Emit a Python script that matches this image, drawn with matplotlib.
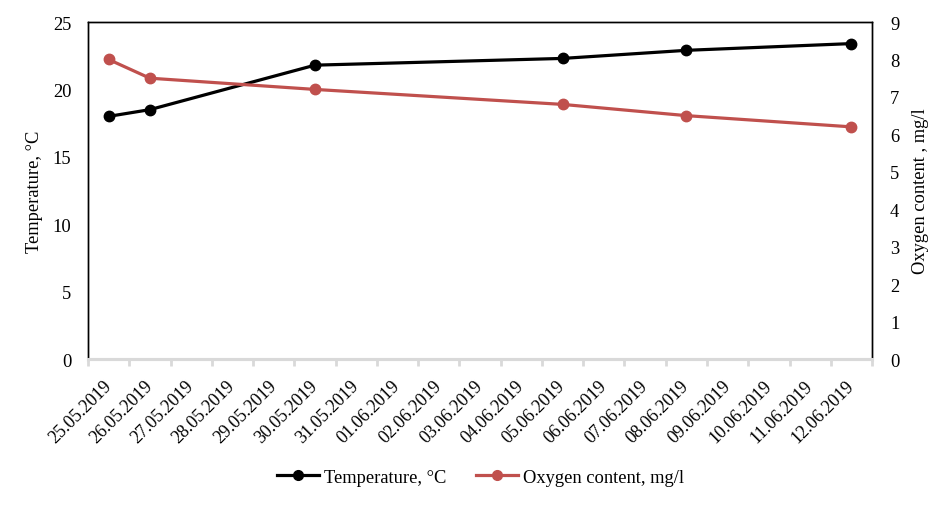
import matplotlib
matplotlib.use("Agg")
import matplotlib.pyplot as plt
import matplotlib.transforms as mtransforms
from matplotlib.lines import Line2D
import datetime as dt

plt.rcParams['font.family'] = ['Liberation Serif', 'DejaVu Serif']

sample_dates = ["25.05.2019", "26.05.2019", "30.05.2019", "05.06.2019", "08.06.2019", "12.06.2019"]
temperature = [18.0, 18.5, 21.8, 22.3, 22.9, 23.4]
oxygen = [8.0, 7.5, 7.2, 6.8, 6.5, 6.2]
start_label = "25.05.2019"
end_label = "12.06.2019"

def parse(s):
    return dt.datetime.strptime(s, "%d.%m.%Y")

xd = [parse(s) for s in sample_dates]
d0, d1 = parse(start_label), parse(end_label)
ndays = (d1 - d0).days
all_days = [d0 + dt.timedelta(days=i) for i in range(ndays + 1)]
bounds = [d0 + dt.timedelta(hours=-12) + dt.timedelta(days=i) for i in range(ndays + 2)]

FS = 13.3
fig = plt.figure(figsize=(9.51, 5.06), dpi=100)
ax = fig.add_axes([0.0925, 0.2885, 0.8245, 0.666])
ax2 = ax.twinx()

red = "#C0504D"
ax.plot(xd, temperature, color="black", lw=2.3, marker="o", ms=7.5, zorder=5)
ax2.plot(xd, oxygen, color=red, lw=2.3, marker="o", ms=7.5, zorder=5)

ax.set_xlim(bounds[0], bounds[-1])
ax.set_ylim(0, 25)
ax.set_yticks(range(0, 26, 5))
ax2.set_ylim(0, 9)
ax2.set_yticks(range(0, 10, 1))

ax.set_xticks(all_days)
ax.set_xticklabels([d.strftime("%d.%m.%Y") for d in all_days], rotation=45,
                   ha="right", va="center", rotation_mode="anchor")
offset = mtransforms.ScaledTranslation(-3 / 100, 0, fig.dpi_scale_trans)
for lbl in ax.get_xticklabels():
    lbl.set_transform(lbl.get_transform() + offset)
ax.set_xticks(bounds, minor=True)
ax.tick_params(axis="x", which="major", length=0, pad=17, labelsize=FS - 0.3)
ax.tick_params(axis="x", which="minor", length=5, width=2, color="#D9D9D9")
ax.tick_params(axis="y", length=0, pad=12, labelsize=FS)
ax2.tick_params(axis="y", length=0, pad=13, labelsize=FS)

for a in (ax, ax2):
    a.spines["bottom"].set_color("#D9D9D9")
    a.spines["bottom"].set_linewidth(2.2)
    for s in ("left", "right", "top"):
        a.spines[s].set_color("black")
        a.spines[s].set_linewidth(1.0)

ax.set_ylabel("Temperature, °C", fontsize=FS, labelpad=7)
ax2.set_ylabel("Oxygen content , mg/l", fontsize=FS, labelpad=9)

handles = [Line2D([], [], color="black", lw=2.3, marker="o", ms=7),
           Line2D([], [], color=red, lw=2.3, marker="o", ms=7)]
fig.legend(handles, ["Temperature, °C", "Oxygen content, mg/l"], loc="center",
           bbox_to_anchor=(0.505, 0.055), ncol=2, frameon=False, fontsize=FS,
           handlelength=2.3, handletextpad=0.25, columnspacing=1.6)

fig.savefig("out.png", dpi=100)
